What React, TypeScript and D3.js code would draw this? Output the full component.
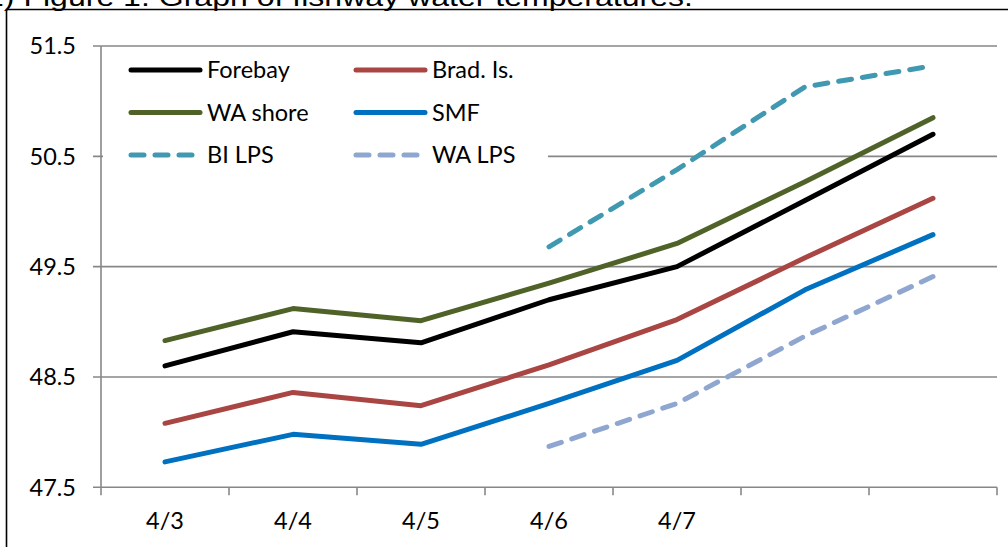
import React from "react";
import * as d3 from "d3";

const categories = ["4/3", "4/4", "4/5", "4/6", "4/7", "4/8", "4/9"];
const categoryLabels = ["4/3", "4/4", "4/5", "4/6", "4/7", "", ""];
const yTicks = [47.5, 48.5, 49.5, 50.5, 51.5];

const forebay = [48.6, 48.91, 48.81, 49.2, 49.5, 50.1, 50.7];
const bradIs = [48.08, 48.36, 48.24, 48.61, 49.02, 49.58, 50.12];
const waShore = [48.83, 49.12, 49.01, 49.35, 49.71, 50.27, 50.85];
const smf = [47.73, 47.98, 47.89, 48.26, 48.65, 49.29, 49.79];
const biLps = [null, null, null, 49.68, 50.38, 51.13, 51.32];
const waLps = [null, null, null, 47.87, 48.26, 48.87, 49.41];

type S = { name: string; values: (number | null)[]; color: string; dashed: boolean };
const series: S[] = [
  { name: "Forebay", values: forebay, color: "#000000", dashed: false },
  { name: "Brad. Is.", values: bradIs, color: "#A94643", dashed: false },
  { name: "WA shore", values: waShore, color: "#4F6228", dashed: false },
  { name: "SMF", values: smf, color: "#0070C0", dashed: false },
  { name: "BI LPS", values: biLps, color: "#4199B1", dashed: true },
  { name: "WA LPS", values: waLps, color: "#8FA7D0", dashed: true },
];

const W = 1008;
const H = 547;
const FONT = "Lato, 'Open Sans', sans-serif";
const FS = 23.5;

export default function App() {
  const x = d3.scaleBand<string>().domain(categories).range([101, 997]).padding(0);
  const y = d3.scaleLinear().domain([47.5, 51.5]).range([487.3, 46]);
  const cx = (c: string) => (x(c) ?? 0) + x.bandwidth() / 2;

  const line = d3
    .line<[string, number | null]>()
    .defined((d) => d[1] !== null)
    .x((d) => cx(d[0]))
    .y((d) => y(d[1] as number));

  const axisColor = "#878787";
  const tickEdges = [...categories.map((c) => x(c) ?? 0), 997];

  return (
    <svg
      width={W}
      height={H}
      style={{ position: "absolute", left: 0, top: 0, background: "#fff" }}
    >
      <rect x={0} y={0} width={W} height={H} fill="#fff" />
      {/* title, cut off at the top edge as in the reference */}
      <text
        x={-14}
        y={6}
        fontFamily="'Liberation Sans', Arial, sans-serif"
        fontSize={26}
        textLength={707}
        lengthAdjust="spacingAndGlyphs"
        fill="#000"
      >
        2) Figure 1. Graph of fishway water temperatures.
      </text>
      {/* frame */}
      <path d={`M6.5,${H + 5}V9.5H${W + 5}`} fill="none" stroke="#000" strokeWidth={1.6} />

      {/* gridlines */}
      {yTicks.map((t) => (
        <line key={t} x1={93} x2={997} y1={y(t)} y2={y(t)} stroke={axisColor} strokeWidth={1.6} />
      ))}
      {/* y axis */}
      <line x1={101} x2={101} y1={y(51.5)} y2={y(47.5)} stroke={axisColor} strokeWidth={1.6} />
      {/* x tick marks */}
      {tickEdges.map((t, i) => (
        <line key={i} x1={t} x2={t} y1={y(47.5)} y2={y(47.5) + 8} stroke={axisColor} strokeWidth={1.6} />
      ))}
      {/* y labels */}
      {yTicks.map((t) => (
        <text
          key={t}
          x={76}
          y={y(t)}
          dy="0.35em"
          textAnchor="end"
          fontFamily={FONT}
          fontSize={FS}
          fill="#000"
        >
          {t.toFixed(1)}
        </text>
      ))}
      {/* x labels */}
      {categories.map((c, i) => (
        <text
          key={c}
          x={cx(c)}
          y={521}
          dy="0.35em"
          textAnchor="middle"
          fontFamily={FONT}
          fontSize={FS}
          fill="#000"
        >
          {categoryLabels[i]}
        </text>
      ))}

      {/* legend background */}
      <rect x={103} y={52} width={445} height={122} fill="#fff" />

      {/* series */}
      {series.map((s) => (
        <path
          key={s.name}
          d={line(categories.map((c, i) => [c, s.values[i]])) ?? ""}
          fill="none"
          stroke={s.color}
          strokeWidth={5}
          strokeLinecap="round"
          strokeLinejoin="round"
          strokeDasharray={s.dashed ? "13 11" : undefined}
        />
      ))}

      {/* legend */}
      {series.map((s, i) => {
        const col = i % 2;
        const row = Math.floor(i / 2);
        const lx = col === 0 ? 131 : 356;
        const ly = 70 + row * 42.5;
        return (
          <g key={s.name}>
            <line
              x1={lx}
              x2={lx + 69}
              y1={ly}
              y2={ly}
              stroke={s.color}
              strokeWidth={5}
              strokeLinecap="round"
              strokeDasharray={s.dashed ? "13 11" : undefined}
            />
            <text x={lx + 76} y={ly} dy="0.35em" fontFamily={FONT} fontSize={FS} fill="#000">
              {s.name}
            </text>
          </g>
        );
      })}
    </svg>
  );
}
